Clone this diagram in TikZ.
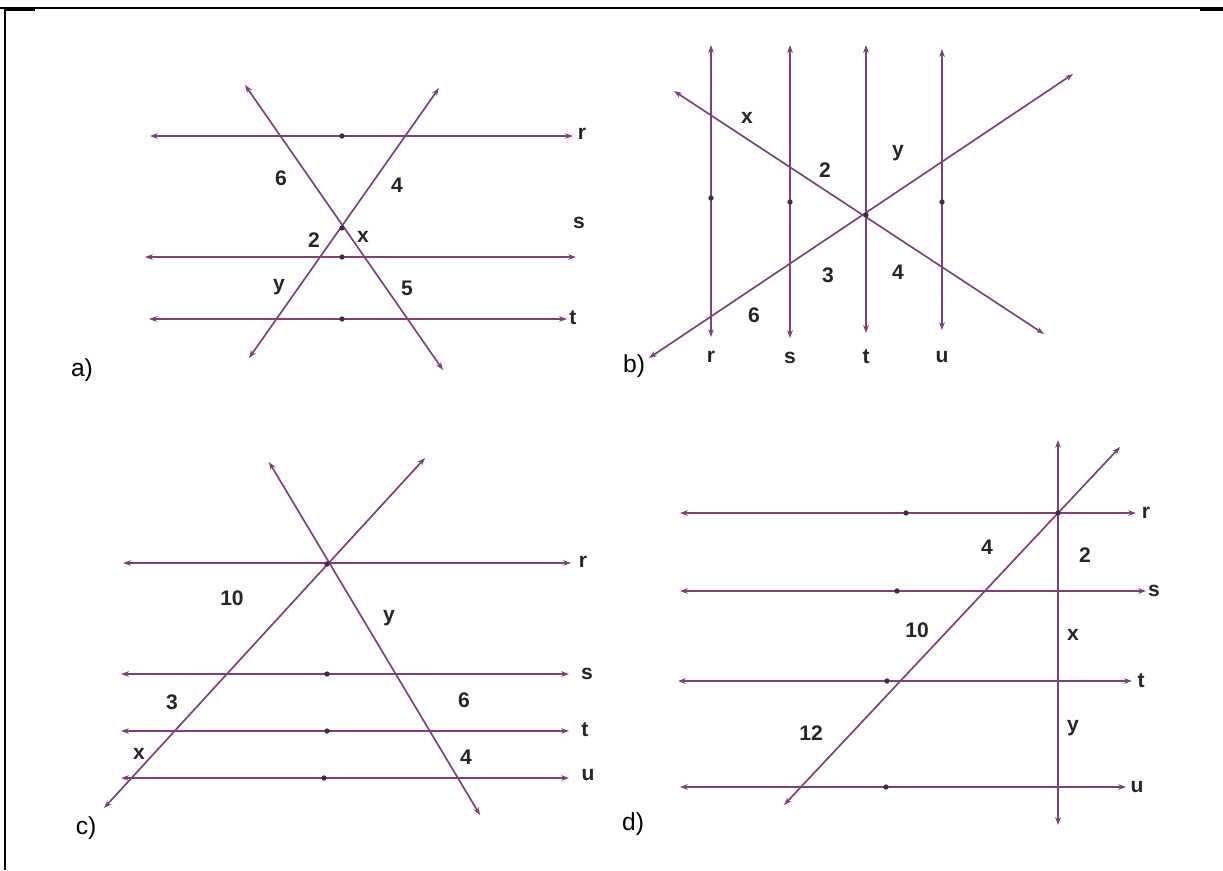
\documentclass[tikz,border=0pt]{standalone}
\usepackage{fontspec}
\setmainfont{Liberation Sans}
\usepackage{xcolor}
\usetikzlibrary{arrows.meta}

\definecolor{lilac}{RGB}{128,62,122}
\definecolor{ink}{RGB}{40,36,40}

\begin{document}
\begin{tikzpicture}[x=0.02cm, y=-0.02cm,
  every node/.style={font=\fontsize{12}{13}\selectfont\bfseries, text=ink, inner sep=0pt},
  ln/.style={lilac, line width=0.95pt,
    {Stealth[length=4.5pt,width=3.2pt]}-{Stealth[length=4.5pt,width=3.2pt]}},
  dt/.style={circle, fill=ink!70!lilac, minimum size=3pt, inner sep=0pt},
  tag/.style={font=\fontsize{14}{15}\selectfont, text=black}]
  \useasboundingbox (0,0) rectangle (1223,870);
  % frame
  \draw[line width=0.6pt] (0,8) -- (1223,8);
  \draw[line width=1.3pt] (5,9) -- (5,870);
  \draw[line width=1.5pt] (5,10) -- (35,10);
  \draw[line width=1.5pt] (1200,10) -- (1223,10);

  % a) parallels r, s, t
  \coordinate (ar0) at (150,136); \coordinate (ar1) at (573,136);
  \coordinate (as0) at (145,257); \coordinate (as1) at (576,257);
  \coordinate (at0) at (149,319); \coordinate (at1) at (567,319);
  \draw[ln] (ar0) -- (ar1);
  \draw[ln] (as0) -- (as1);
  \draw[ln] (at0) -- (at1);
  \node (arl) at (582,134) {r};
  \node (asl) at (579,223) {s};
  \node (atl) at (573,318) {t};
  % a) transversals
  \coordinate (ap0) at (245,85);  \coordinate (ap1) at (443,370);
  \coordinate (aq0) at (249,358); \coordinate (aq1) at (439,88);
  \draw[ln] (ap0) -- (ap1);
  \draw[ln] (aq0) -- (aq1);
  \node[dt] (ard) at (342,136) {};
  \node[dt] (asd) at (342,257) {};
  \node[dt] (atd) at (342,319) {};
  \node[dt] (ax)  at (342,228) {};
  \node (a6) at (281,178) {6};
  \node (a4) at (397,185) {4};
  \node (a2) at (314,240) {2};
  \node (ax1) at (363,237) {x};
  \node (ay) at (279,287) {y};
  \node (a5) at (407,288) {5};
  \node[tag] (alab) at (82,370) {a)};

  % b) parallels r, s, t, u
  \coordinate (br0) at (711,45); \coordinate (br1) at (711,337);
  \coordinate (bs0) at (790,45); \coordinate (bs1) at (790,338);
  \coordinate (bt0) at (866,45); \coordinate (bt1) at (866,333);
  \coordinate (bu0) at (942,49); \coordinate (bu1) at (942,330);
  \draw[ln] (br0) -- (br1);
  \draw[ln] (bs0) -- (bs1);
  \draw[ln] (bt0) -- (bt1);
  \draw[ln] (bu0) -- (bu1);
  \node (brl) at (711,357) {r};
  \node (bsl) at (790,358) {s};
  \node (btl) at (866,357) {t};
  \node (bul) at (942,357) {u};
  % b) transversals
  \coordinate (bp0) at (674,91);  \coordinate (bp1) at (1044,334);
  \coordinate (bq0) at (649,358); \coordinate (bq1) at (1073,74);
  \draw[ln] (bp0) -- (bp1);
  \draw[ln] (bq0) -- (bq1);
  \node[dt] (brd) at (711,198) {};
  \node[dt] (bsd) at (790,202) {};
  \node[dt] (bud) at (942,202) {};
  \node[dt] (bx)  at (866,215) {};
  \node (bx1) at (747,118) {x};
  \node (b2) at (825,170) {2};
  \node (by) at (898,153) {y};
  \node (b3) at (828,275) {3};
  \node (b4) at (898,272) {4};
  \node (b6) at (754,315) {6};
  \node[tag] (blab) at (634,366) {b)};

  % c) parallels r, s, t, u
  \coordinate (cr0) at (123,563); \coordinate (cr1) at (571,563);
  \coordinate (cs0) at (121,674); \coordinate (cs1) at (569,674);
  \coordinate (ct0) at (121,731); \coordinate (ct1) at (569,731);
  \coordinate (cu0) at (121,778); \coordinate (cu1) at (569,778);
  \draw[ln] (cr0) -- (cr1);
  \draw[ln] (cs0) -- (cs1);
  \draw[ln] (ct0) -- (ct1);
  \draw[ln] (cu0) -- (cu1);
  \node (crl) at (583,562) {r};
  \node (csl) at (587,674) {s};
  \node (ctl) at (585,730) {t};
  \node (cul) at (588,775) {u};
  % c) transversals
  \coordinate (cp0) at (104,808); \coordinate (cp1) at (425,458);
  \coordinate (cq0) at (269,462); \coordinate (cq1) at (480,815);
  \draw[ln] (cp0) -- (cp1);
  \draw[ln] (cq0) -- (cq1);
  \node[dt] (cx)  at (327,564) {};
  \node[dt] (csd) at (327,674) {};
  \node[dt] (ctd) at (327,731) {};
  \node[dt] (cud) at (324,778) {};
  \node (c10) at (232,598) {10};
  \node (cy) at (389,618) {y};
  \node (c3) at (172,702) {3};
  \node (c6) at (464,700) {6};
  \node (cx1) at (139,754) {x};
  \node (c4) at (466,757) {4};
  \node[tag] (clab) at (86,828) {c)};

  % d) parallels r, s, t, u
  \coordinate (dr0) at (680,513); \coordinate (dr1) at (1136,513);
  \coordinate (ds0) at (680,591); \coordinate (ds1) at (1146,591);
  \coordinate (dt0) at (678,681); \coordinate (dt1) at (1132,681);
  \coordinate (du0) at (680,787); \coordinate (du1) at (1126,787);
  \draw[ln] (dr0) -- (dr1);
  \draw[ln] (ds0) -- (ds1);
  \draw[ln] (dt0) -- (dt1);
  \draw[ln] (du0) -- (du1);
  \node (drl) at (1146,513) {r};
  \node (dsl) at (1154,591) {s};
  \node (dtl) at (1141,681) {t};
  \node (dul) at (1137,787) {u};
  % d) vertical + diagonal
  \coordinate (dv0) at (1058,440); \coordinate (dv1) at (1058,825);
  \coordinate (dp0) at (784,805);  \coordinate (dp1) at (1120,447);
  \draw[ln] (dv0) -- (dv1);
  \draw[ln] (dp0) -- (dp1);
  \node[dt] (drd) at (906,513) {};
  \node[dt] (dsd) at (897,591) {};
  \node[dt] (dtd) at (887,681) {};
  \node[dt] (dud) at (886,787) {};
  \node[dt] (dx)  at (1058,513) {};
  \node (d4) at (987,547) {4};
  \node (d2) at (1085,555) {2};
  \node (d10) at (917,630) {10};
  \node (dx1) at (1073,635) {x};
  \node (d12) at (811,733) {12};
  \node (dy) at (1073,728) {y};
  \node[tag] (dlab) at (633,824) {d)};
\end{tikzpicture}
\end{document}
